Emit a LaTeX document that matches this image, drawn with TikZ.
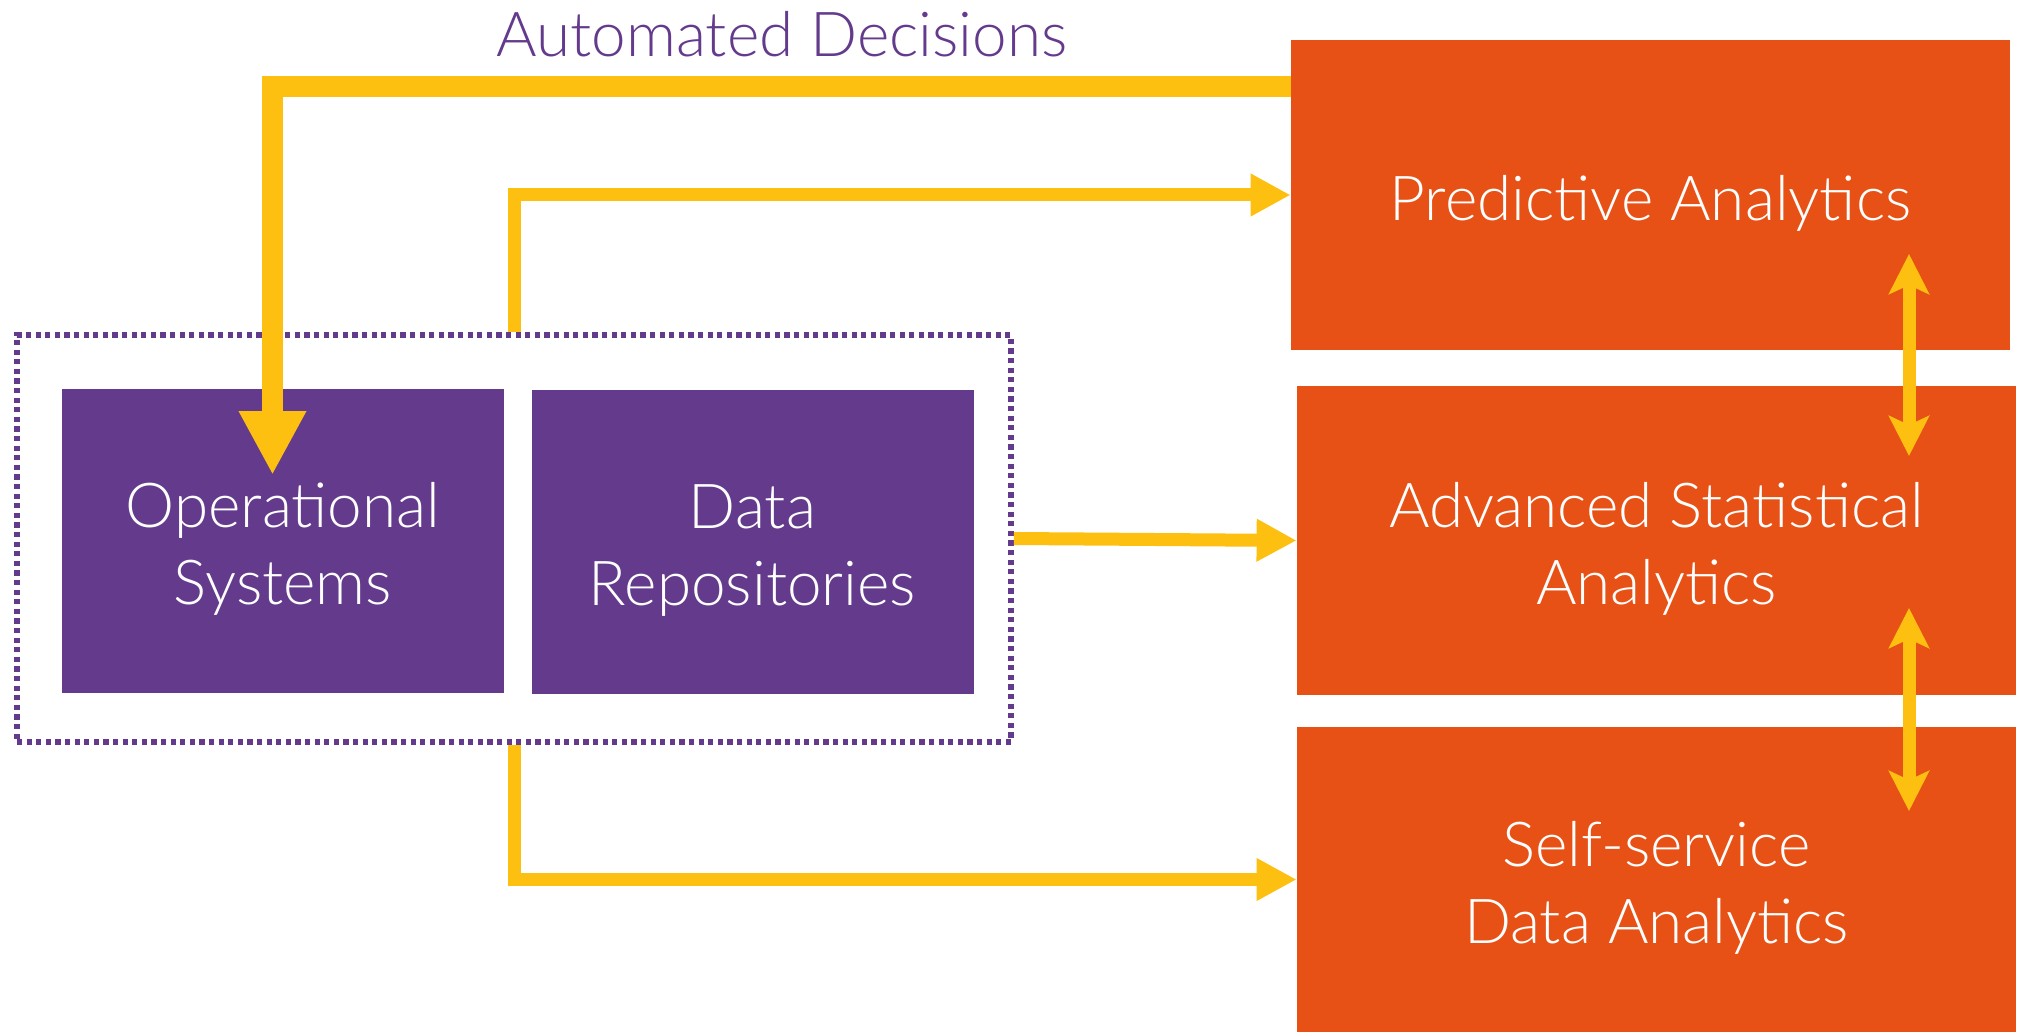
\documentclass[tikz,border=0pt]{standalone}
\usepackage{fontspec}
\setmainfont{Lato}[UprightFont=* Light]
\usetikzlibrary{arrows.meta,calc}
\definecolor{purp}{RGB}{100,58,140}
\definecolor{orng}{RGB}{232,81,22}
\definecolor{yell}{RGB}{253,192,16}
\newcommand{\tstrut}{\rule{0pt}{30.5pt}}
\begin{document}
\begin{tikzpicture}[x=0.5pt,y=-0.5pt,
  pbox/.style={fill=purp,draw=none,text=white,align=center,inner sep=0pt,
    minimum width=221pt,minimum height=152pt,font=\fontsize{31}{38.5}\selectfont},
  obox/.style={fill=orng,draw=none,text=white,align=center,inner sep=0pt,
    minimum width=359.5pt,font=\fontsize{31}{38.5}\selectfont},
  grpbox/.style={draw=purp,line width=2.8pt,dash pattern=on 2.6pt off 2.2pt,
    minimum width=497pt,minimum height=203.5pt,inner sep=0pt},
  bigarrow/.style={draw=yell,line width=10.5pt,-{Triangle[width=31.5pt,length=32pt]}},
  yarrow/.style={draw=yell,line width=6.5pt,-{Triangle[width=20pt,length=20pt]}},
  dblarrow/.style={draw=yell,line width=6.5pt,{Stealth[width=20pt,length=20pt,inset=4.5pt]}-{Stealth[width=20pt,length=20pt,inset=4.5pt]}},
]
\useasboundingbox (0,0) rectangle (2024,1032);

\node[grpbox] (grp) at (514,538.5) {};
\node[pbox] (ops) at (283,541) {\tstrut Operational\\Systems};
\node[pbox] (data) at (752.5,542) {\tstrut Data\\Repositories};

\node[obox,minimum height=155pt] (pred) at (1650.5,195) {\tstrut Predictive Analytics};
\node[obox,minimum height=154.5pt] (adv) at (1656.5,540.5) {\tstrut Advanced Statistical\\Analytics};
\node[obox,minimum height=152.5pt] (self) at (1656.5,879.5) {\tstrut Self-service\\Data Analytics};

\node[text=purp,anchor=base,font=\fontsize{31}{38.5}\selectfont] (auto) at (782,57) {Automated Decisions};

\coordinate (gap) at (514,538);
\coordinate (odec) at (272.5,475);
\coordinate (d1a) at (1909,254);
\coordinate (d1b) at (1909,456);
\coordinate (d2a) at (1909,608);
\coordinate (d2b) at (1909,811);

\draw[bigarrow] ($(pred.north west)!0.15!(pred.south west)$) -| (odec);
\draw[yarrow] (gap |- grp.north) |- (pred.west);
\draw[yarrow] (grp.east) -- (adv.west);
\draw[yarrow] (gap |- grp.south) |- (self.west);
\draw[dblarrow] (d1a) -- (d1b);
\draw[dblarrow] (d2a) -- (d2b);
\end{tikzpicture}
\end{document}
